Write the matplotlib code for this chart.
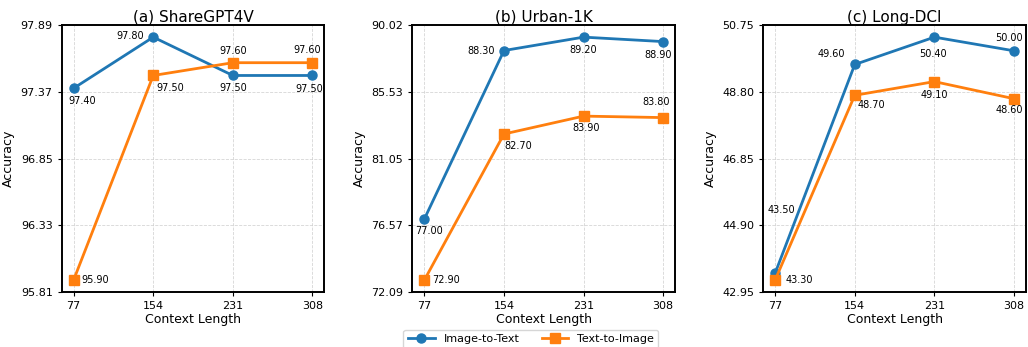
import matplotlib
matplotlib.use('Agg')
import matplotlib.pyplot as plt
import numpy as np

# context lengths on the x axis
context = [77, 154, 231, 308]

titles = ['(a) ShareGPT4V', '(b) Urban-1K', '(c) Long-DCI']

# accuracy per dataset
i2t_sharegpt = [97.4, 97.8, 97.5, 97.5]
t2i_sharegpt = [95.9, 97.5, 97.6, 97.6]

i2t_urban = [77.0, 88.3, 89.2, 88.9]
t2i_urban = [72.9, 82.7, 83.9, 83.8]

i2t_dci = [43.5, 49.6, 50.4, 50.0]
t2i_dci = [43.3, 48.7, 49.1, 48.6]

i2t_all = [i2t_sharegpt, i2t_urban, i2t_dci]
t2i_all = [t2i_sharegpt, t2i_urban, t2i_dci]

# label offsets in pixels (hand placed so they don't collide)
i2t_offsets = [
    [(9, -13), (-23, 1), (0, -13), (-3, -14)],
    [(5, -12), (-23, 0), (0, -13), (-5, -13)],
    [(6, 63), (-23, 10), (-1, -17), (-5, 13)],
]
t2i_offsets = [
    [(22, 0), (17, -13), (0, 12), (-5, 13)],
    [(22, 0), (14, -12), (3, -12), (-7, 16)],
    [(24, 0), (17, -10), (0, -13), (-5, -11)],
]

blue = '#1f77b4'
orange = '#ff7f0e'

fig, axes = plt.subplots(1, 3, figsize=(10.28, 3.47), dpi=100)
fig.subplots_adjust(left=0.060, right=0.998, top=0.928, bottom=0.158, wspace=0.335)

for k, ax in enumerate(axes):
    l1, = ax.plot(context, i2t_all[k], marker='o', color=blue, linewidth=2,
                  markersize=6.5, label='Image-to-Text')
    l2, = ax.plot(context, t2i_all[k], marker='s', color=orange, linewidth=2,
                  markersize=6.5, label='Text-to-Image')

    # value labels
    for x, y, off in zip(context, i2t_all[k], i2t_offsets[k]):
        ax.annotate(f'{y:.2f}', xy=(x, y), xytext=off, textcoords='offset pixels',
                    ha='center', va='center', fontsize=7)
    for x, y, off in zip(context, t2i_all[k], t2i_offsets[k]):
        ax.annotate(f'{y:.2f}', xy=(x, y), xytext=off, textcoords='offset pixels',
                    ha='center', va='center', fontsize=7)

    ax.set_title(titles[k], fontsize=11, pad=2)
    ax.set_xlabel('Context Length', fontsize=9, labelpad=1)
    ax.set_ylabel('Accuracy', fontsize=9)
    ax.set_xticks(context)
    ymin, ymax = ax.get_ylim()
    ax.set_ylim(ymin, ymax)
    ax.set_yticks(np.linspace(ymin, ymax, 5))
    ax.yaxis.set_major_formatter(plt.FormatStrFormatter('%.2f'))
    ax.tick_params(labelsize=8, length=3)
    ax.grid(True, linestyle='--', color='#cccccc', linewidth=0.6, alpha=0.8)
    for s in ax.spines.values():
        s.set_linewidth(1.4)

fig.legend(handles=[l1, l2], loc='upper center', ncol=2, fontsize=8,
           handlelength=2.4, bbox_to_anchor=(0.5165, 0.066), frameon=True)

fig.savefig('out.png', dpi=100)
